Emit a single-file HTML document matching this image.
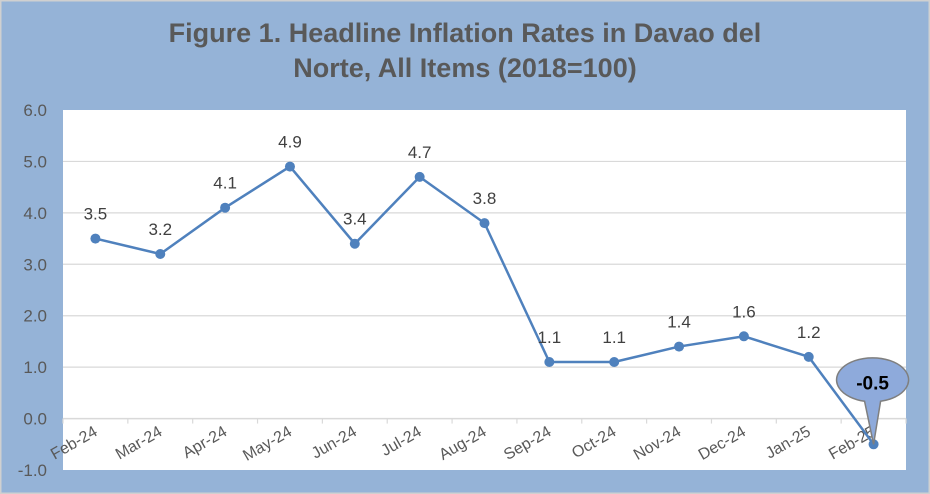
<!DOCTYPE html>
<html><head><meta charset="utf-8"><style>
body{margin:0;background:#fff}
svg{display:block;font-family:"Liberation Sans",Arial,sans-serif}
</style></head><body>
<svg width="930" height="494" id="chart">
<rect x="0" y="0" width="930" height="494" fill="#95B3D7" stroke="#d0d0d0" stroke-width="3"/>
<text x="465" y="42" text-anchor="middle" font-size="27" font-weight="bold" fill="#595959">Figure 1. Headline Inflation Rates in Davao del</text>
<text x="465" y="77" text-anchor="middle" font-size="27" font-weight="bold" fill="#595959">Norte, All Items (2018=100)</text>
<rect x="63" y="110" width="843" height="360" fill="#fff"/>
<g id="grid"></g><g id="yt"></g><g id="xt"></g><g id="series"></g>
</svg>
<script>
const categories=["Feb-24","Mar-24","Apr-24","May-24","Jun-24","Jul-24","Aug-24","Sep-24","Oct-24","Nov-24","Dec-24","Jan-25","Feb-25"];
const values=[3.5,3.2,4.1,4.9,3.4,4.7,3.8,1.1,1.1,1.4,1.6,1.2,-0.5];
const yTicks=[-1,0,1,2,3,4,5,6];
const NS="http://www.w3.org/2000/svg";
const L=63,R=906,T=110,B=470,yMin=-1,yMax=6;
const bw=(R-L)/categories.length;
const xs=i=>L+bw*(i+0.5);
const ys=v=>B-(v-yMin)/(yMax-yMin)*(B-T);
function mk(t,a,p){const e=document.createElementNS(NS,t);for(const k in a)e.setAttribute(k,a[k]);p.appendChild(e);return e;}
const grid=document.getElementById('grid'),yt=document.getElementById('yt'),xt=document.getElementById('xt'),ser=document.getElementById('series');
yTicks.forEach(v=>{
 if(v>yMin&&v<yMax){const g=mk('line',{x1:L,x2:R,y1:ys(v),y2:ys(v),stroke:'#d9d9d9','stroke-width':v===0?1.5:1.2},grid);
 
 }
 const t=mk('text',{x:47,y:ys(v)+6,'text-anchor':'end','font-size':17,fill:'#595959'},yt);
 t.textContent=v.toFixed(1);
 
 
});
const y0=ys(0);
for(let i=0;i<=categories.length;i++){
 const tk=mk('line',{x1:L+bw*i,x2:L+bw*i,y1:y0,y2:y0+5,stroke:'#d9d9d9','stroke-width':1.2},xt);
 
 
}
categories.forEach((c,i)=>{
 const x=xs(i)+3,y=y0+16;
 const t=mk('text',{x:x,y:y,'text-anchor':'end','font-size':16,fill:'#595959',transform:`rotate(-30 ${x} ${y})`},xt);
 t.textContent=c;
 
 
});
const pl=mk('polyline',{points:values.map((v,i)=>xs(i)+','+ys(v)).join(' '),fill:'none',stroke:'#4F81BD','stroke-width':2.5},ser);


values.forEach((v,i)=>{
 const p=mk('circle',{cx:xs(i),cy:ys(v),r:5,fill:'#4F81BD'},ser);
 
 
 if(i<values.length-1){
  const t=mk('text',{x:xs(i),y:ys(v)-19,'text-anchor':'middle','font-size':17,fill:'#404040'},ser);
  t.textContent=v.toFixed(1);
  
  
 }
});
const li=values.length-1,px=xs(li),py=ys(values[li]);
const cx=px-1,cy=py-62;
const cb=mk('path',{d:`M ${cx-8} ${cy+19} L ${px} ${py} L ${cx+8} ${cy+19} A 36 22 0 1 0 ${cx-8} ${cy+19} Z`,fill:'#8EAADB',stroke:'#7f7f7f','stroke-width':1.5},ser);


const ct=mk('text',{x:cx,y:cy+7,'text-anchor':'middle','font-size':19,'font-weight':'bold',fill:'#000'},ser);
ct.textContent=values[li].toFixed(1);


</script>
</body></html>
